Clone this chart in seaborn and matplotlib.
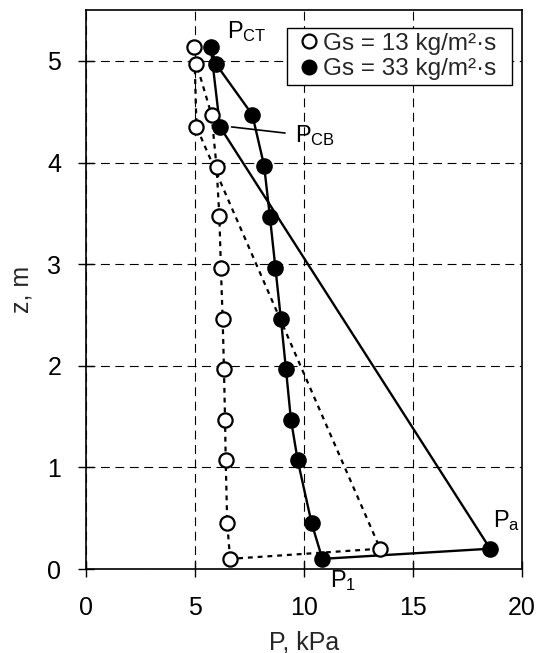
import matplotlib
matplotlib.use("Agg")
import matplotlib.pyplot as plt
from matplotlib.lines import Line2D
import seaborn as sns
import pandas as pd

# --- data (path order) ---
P_13 = [6.61, 6.48, 6.41, 6.38, 6.33, 6.27, 6.19, 6.12, 5.99, 5.76, 5.07, 4.97, 5.07, 13.49]
z_13 = [0.10, 0.45, 1.07, 1.47, 1.97, 2.46, 2.96, 3.47, 3.96, 4.47, 4.97, 5.14, 4.35, 0.20]
P_33 = [10.84, 10.35, 9.71, 9.40, 9.17, 8.94, 8.69, 8.44, 8.17, 7.63, 5.96, 5.72, 6.15, 18.53]
z_33 = [0.10, 0.45, 1.07, 1.47, 1.97, 2.46, 2.96, 3.46, 3.97, 4.47, 4.97, 5.14, 4.35, 0.20]
labels = ["Gs = 13 kg/m²·s", "Gs = 33 kg/m²·s"]
x_ticks = [0, 5, 10, 15, 20]
y_ticks = [0, 1, 2, 3, 4, 5]

sns.set_theme(style="white")
plt.rcParams['font.family'] = ['Liberation Sans', 'DejaVu Sans']
plt.rcParams['mathtext.fontset'] = 'custom'
plt.rcParams['mathtext.rm'] = 'Liberation Sans'
plt.rcParams['mathtext.it'] = 'Liberation Sans'

def closed(P, z):
    return pd.DataFrame({"P": P + [P[0]], "z": z + [z[0]], "ord": range(len(P) + 1)})

d13 = closed(P_13, z_13)
d33 = closed(P_33, z_33)

fig = plt.figure(figsize=(5.40, 6.53), dpi=100)
ax = fig.add_axes([0.159, 0.1286, 0.808, 0.856])

sns.lineplot(data=d13, x="P", y="z", sort=False, ax=ax, color="black",
             lw=1.6, linestyle=(0, (2.2, 2.2)), estimator=None, zorder=3)
sns.lineplot(data=d33, x="P", y="z", sort=False, ax=ax, color="black",
             lw=1.7, estimator=None, zorder=3)
sns.scatterplot(x=P_13, y=z_13, ax=ax, marker="o", s=105, facecolor="white",
                edgecolor="black", linewidth=1.6, zorder=4)
sns.scatterplot(x=P_33, y=z_33, ax=ax, marker="o", s=120, color="black",
                edgecolor="black", linewidth=1.0, zorder=4)

ax.set_xlim(0, 20)
ax.set_ylim(0, 5.5)
ax.set_xticks(x_ticks)
ax.set_yticks(y_ticks)
ax.set_xlabel("P, kPa", fontsize=18, labelpad=7)
ax.set_ylabel("z, m", fontsize=18, labelpad=10)
ax.tick_params(axis="both", direction="inout", length=11.5, width=1, colors="black",
               labelsize=18, left=True, bottom=True, pad=12)
ax.tick_params(axis="x", pad=14)
for s in ax.spines.values():
    s.set_color("black")
    s.set_linewidth(1.2)
ax.grid(True, color="black", linestyle=(0, (8, 5)), lw=0.8)
ax.set_axisbelow(True)

handles = [
    Line2D([], [], marker="o", linestyle="none", markersize=10, markerfacecolor="white",
           markeredgecolor="black", markeredgewidth=1.6),
    Line2D([], [], marker="o", linestyle="none", markersize=10.5, markerfacecolor="black",
           markeredgecolor="black"),
]
leg = ax.legend(handles, labels, loc="upper left", mode="expand",
                bbox_to_anchor=(0.461, 0.862, 0.516, 0.106),
                fontsize=17.5, frameon=True, fancybox=False, handlelength=1.4,
                handletextpad=-0.12, borderpad=0.2, labelspacing=0.15, borderaxespad=0)
leg.get_frame().set_edgecolor("black")
leg.get_frame().set_linewidth(1.0)
leg.get_frame().set_alpha(1)

txt = dict(fontsize=17, color="black", va="center", ha="left")
ax.text(6.45, 5.29, r"$\mathregular{P_{CT}}$", **txt)
ax.text(9.59, 4.27, r"$\mathregular{P_{CB}}$", **txt)
ax.text(18.67, 0.48, r"$\mathregular{P_{a}}$", **txt)
ax.text(11.19, -0.11, r"$\mathregular{P_{1}}$", clip_on=False, zorder=6, **txt)
ax.plot([6.68, 9.13], [4.35, 4.29], color="black", lw=1.2, zorder=3)

fig.savefig("out.png", dpi=100)
